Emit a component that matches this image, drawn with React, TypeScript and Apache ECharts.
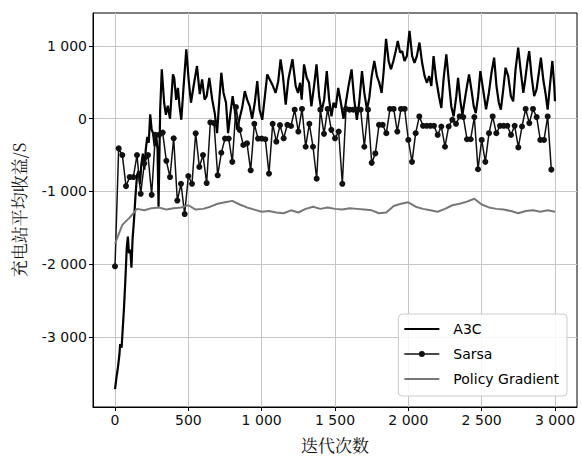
import React, { useEffect, useRef } from "react";
import * as echarts from "echarts";

const xTicks = [0, 500, 1000, 1500, 2000, 2500, 3000];
const yTicks = [-3000, -2000, -1000, 0, 1000];
const xRange = [-150, 3150];
const yRange = [-3966, 1455];

const seriesNames = ["A3C", "Sarsa", "Policy Gradient"];

// A3C: [iteration, reward]
const a3cPoints: [number, number][] = [
  [0, -3720], [10, -3560], [20, -3420], [30, -3250], [35, -3100], [45, -3150], [50, -2980], [60, -2650],
  [70, -2250], [80, -1780], [88, -1620], [95, -1850], [105, -1800], [112, -2050], [120, -1650], [130, -1380],
  [140, -1050], [150, -780], [160, -720], [170, -900], [180, -620], [190, -480], [200, -700], [210, -420],
  [220, -250], [230, -330], [240, 60], [250, -150], [260, -200], [270, -380], [282, -250], [290, -420],
  [297, -1210], [308, 120], [319, 680], [335, 220], [347, 55], [360, 180], [375, 0], [395, 610],
  [404, 560], [417, 260], [429, 425], [440, 170], [452, -14], [468, 450], [486, 955], [502, 540],
  [518, 220], [536, 450], [559, 725], [578, 340], [594, 540], [611, 263], [625, 310], [643, 563],
  [663, 263], [680, 78], [696, -198], [713, 310], [725, 633], [740, 355], [757, 220], [771, -198],
  [787, 78], [802, 310], [816, 125], [833, -150], [849, 0], [867, 150], [885, 380], [901, 263],
  [919, 170], [935, 0], [953, 220], [970, 517], [986, 125], [1004, -14], [1022, 310], [1038, 610],
  [1061, 517], [1077, 450], [1095, 355], [1113, 517], [1129, 817], [1145, 587], [1164, 194], [1182, 540],
  [1210, 820], [1232, 450], [1248, 355], [1262, 495], [1273, 263], [1289, 748], [1307, 563], [1323, 495],
  [1339, 170], [1357, 450], [1374, 748], [1392, 310], [1408, 101], [1426, 263], [1444, 655], [1460, 263],
  [1476, 32], [1490, 220], [1505, 150], [1522, 425], [1540, 220], [1558, 0], [1574, 220], [1590, 425],
  [1613, 680], [1631, 263], [1649, -14], [1665, 220], [1684, 655], [1700, 355], [1718, 125], [1734, 290],
  [1750, 587], [1768, 795], [1786, 587], [1802, 495], [1818, 355], [1831, 633], [1848, 1100], [1866, 790],
  [1882, 680], [1898, 795], [1912, 910], [1928, 1071], [1944, 910], [1958, 930], [1974, 795], [1990, 862],
  [2008, 1209], [2026, 862], [2042, 770], [2058, 862], [2076, 1048], [2094, 770], [2111, 587], [2127, 495],
  [2142, 587], [2157, 450], [2172, 862], [2190, 540], [2209, 310], [2225, 148], [2240, 540], [2259, 885],
  [2275, 540], [2293, 170], [2309, 32], [2327, 310], [2339, 563], [2355, 240], [2369, 55], [2385, 263],
  [2400, 450], [2414, 610], [2430, 400], [2446, 170], [2460, 78], [2476, 310], [2491, 655], [2510, 400],
  [2530, 130], [2549, 355], [2567, 633], [2585, 840], [2601, 450], [2617, 220], [2631, 125], [2647, 400],
  [2663, 702], [2681, 587], [2699, 310], [2715, 240], [2731, 680], [2749, 979], [2765, 680], [2784, 355],
  [2797, 540], [2811, 770], [2824, 930], [2840, 587], [2858, 310], [2874, 400], [2890, 633], [2904, 840],
  [2920, 540], [2935, 355], [2950, 125], [2965, 450], [2982, 795], [2995, 450], [3000, 240],
];

// Sarsa: one value every 25 iterations, starting at 0
const sarsaStep = 25;
const sarsaValues = [
  -2030, -408, -500, -927, -802, -802, -500, -1033, -616, -500,
  -1047, -222, -222, -190, -579, -802, -269, -1126, -895, -1311,
  -788, -895, -200, -663, -500, -885, -51, -60, -778, -468,
  -273, -273, -593, 162, -153, -361, -338, -709, -70, -273,
  -273, -282, -755, -70, -315, -88, -269, -83, -100, 125,
  -176, 135, -385, -70, -385, -825, 125, -208, 135, -153,
  -269, -176, -895, 135, 125, 125, 125, 125, -385, 125,
  -607, -477, -83, -83, -199, 135, 135, -176, 135, 135,
  -292, -593, -199, 32, -97, -97, -97, -97, -222, -107,
  -385, -107, -14, -70, 32, 23, -282, -282, 23, -695,
  -292, -593, -199, 32, -199, -97, -97, -97, -222, -97,
  -394, -107, 135, -60, 135, 23, -292, -292, 32, -700,
];

// Policy Gradient: one value every 50 iterations, starting at 0
const pgStep = 50;
const pgValues = [
  -1720, -1460, -1360, -1240, -1260, -1230, -1220, -1250, -1230, -1220,
  -1190, -1250, -1240, -1210, -1170, -1150, -1130, -1180, -1220, -1250,
  -1280, -1270, -1290, -1300, -1260, -1290, -1240, -1210, -1240, -1220,
  -1240, -1250, -1230, -1240, -1250, -1260, -1300, -1290, -1200, -1170,
  -1150, -1210, -1240, -1260, -1280, -1240, -1190, -1170, -1140, -1100,
  -1180, -1220, -1240, -1250, -1270, -1300, -1270, -1260, -1280, -1260,
  -1280,
];

const fmt = (v: number) => {
  const s = String(Math.abs(v)).replace(/\B(?=(\d{3})+(?!\d))/g, " ");
  return v < 0 ? "-" + s : s;
};

const LATIN = "DejaVu Sans";
const CJK = "Noto Serif CJK SC, Noto Sans CJK SC, serif";

// legend icons (plain line; line with a dot)
const ICON_LINE = "path://M0,0 L35,0 L35,1.8 L0,1.8 Z";
const ICON_LINE_DOT =
  "path://M0,2.25 L35,2.25 L35,3.75 L0,3.75 Z M14.5,3 A3,3 0 1,1 20.5,3 A3,3 0 1,1 14.5,3 Z";

export default function App() {
  const ref = useRef<HTMLDivElement>(null);
  useEffect(() => {
    document.body.style.margin = "0";
    const chart = echarts.init(ref.current!, null, { renderer: "svg" });
    const axisCommon = {
      axisLine: { show: true, onZero: false, lineStyle: { color: "#000", width: 1 } },
      splitLine: { show: true, lineStyle: { color: "#c6c6c6", width: 1 } },
    };
    chart.setOption({
      animation: false,
      backgroundColor: "#fff",
      grid: {
        left: 93, right: 5, top: 13, bottom: 52,
        outerBoundsMode: "none",
        containLabel: false,
        show: true, borderColor: "#000", borderWidth: 1, backgroundColor: "transparent",
      },
      legend: {
        data: [
          { name: seriesNames[0], icon: ICON_LINE },
          { name: seriesNames[1], icon: ICON_LINE_DOT },
          { name: seriesNames[2], icon: ICON_LINE },
        ],
        orient: "vertical",
        right: 15,
        top: 314,
        itemWidth: 35,
        itemHeight: 12,
        itemGap: 11,
        symbolKeepAspect: true,
        padding: [8, 8, 10, 6],
        borderColor: "#cccccc",
        borderWidth: 1,
        borderRadius: 4,
        backgroundColor: "rgba(255,255,255,0.85)",
        textStyle: { fontFamily: LATIN, fontSize: 14, color: "#000", padding: [0, 0, 0, 9] },
      },
      xAxis: {
        type: "value",
        min: xRange[0],
        max: xRange[1],
        ...axisCommon,
        axisTick: { show: true, length: 4, customValues: xTicks, lineStyle: { color: "#000" } },
        axisLabel: {
          customValues: xTicks, formatter: fmt, color: "#111",
          fontFamily: LATIN, fontSize: 14, margin: 6,
        },
        name: "迭代次数",
        nameLocation: "middle",
        nameGap: 29,
        nameTextStyle: { fontFamily: CJK, fontSize: 17, color: "#111" },
      },
      yAxis: {
        type: "value",
        min: yRange[0],
        max: yRange[1],
        ...axisCommon,
        axisTick: { show: true, length: 4, customValues: yTicks, lineStyle: { color: "#000" } },
        axisLabel: {
          customValues: yTicks, formatter: fmt, color: "#111",
          fontFamily: LATIN, fontSize: 14, margin: 6,
        },
        name: "充电站平均收益/S",
        nameLocation: "middle",
        nameGap: 66,
        nameRotate: 90,
        nameTextStyle: { fontFamily: CJK, fontSize: 17, color: "#111" },
      },
      series: [
        {
          name: seriesNames[0],
          type: "line",
          data: a3cPoints,
          symbol: "none",
          lineStyle: { color: "#000", width: 2.2 },
          itemStyle: { color: "#000" },
          z: 2,
        },
        {
          name: seriesNames[1],
          type: "line",
          data: sarsaValues.map((v, i) => [i * sarsaStep, v]),
          symbol: "circle",
          symbolSize: 6,
          lineStyle: { color: "#111", width: 1.5 },
          itemStyle: { color: "#111" },
          z: 3,
        },
        {
          name: seriesNames[2],
          type: "line",
          data: pgValues.map((v, i) => [i * pgStep, v]),
          symbol: "none",
          lineStyle: { color: "#777", width: 2 },
          itemStyle: { color: "#777" },
          z: 4,
        },
      ],
    });
    return () => chart.dispose();
  }, []);
  return (
    <div
      ref={ref}
      style={{ position: "absolute", left: 0, top: 0, width: 582, height: 459 }}
    />
  );
}
